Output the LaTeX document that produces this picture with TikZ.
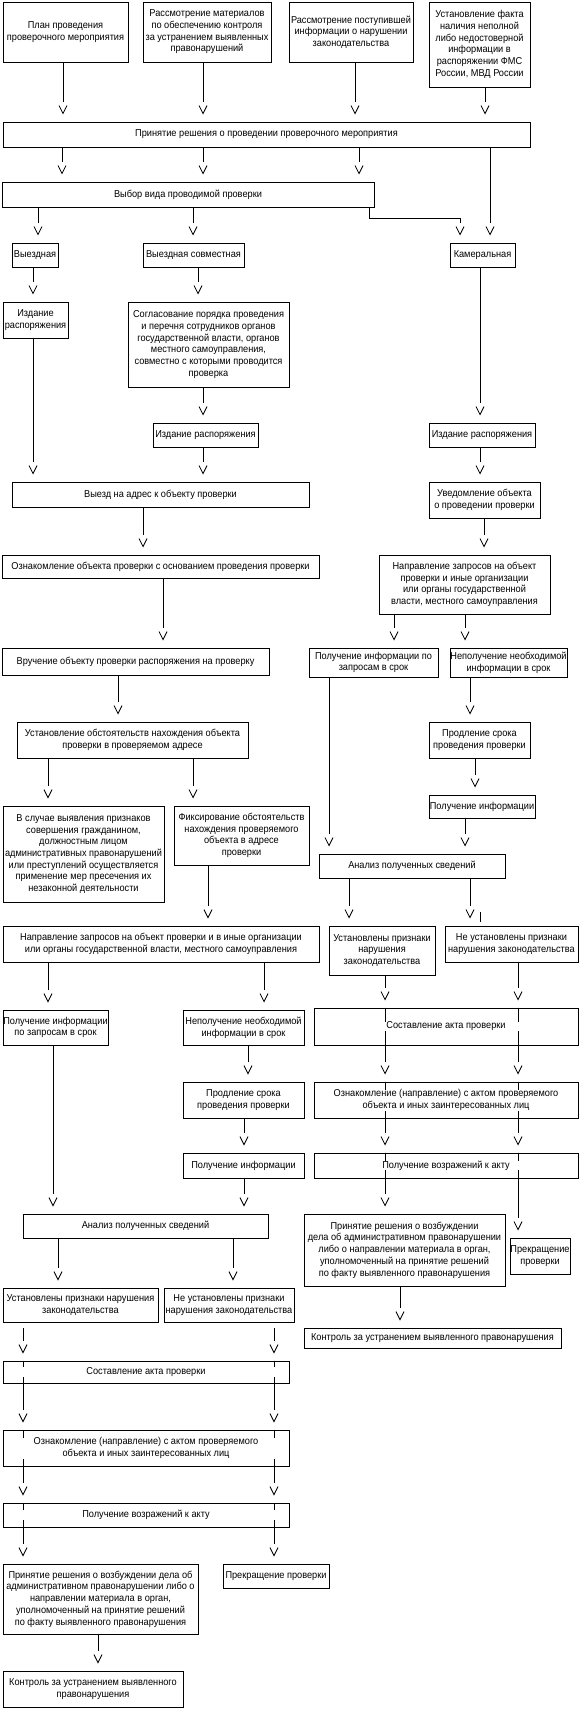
\documentclass[tikz,border=0pt]{standalone}
\usepackage{fontspec}
\setmainfont{Liberation Sans}[FakeStretch=0.92]
\usetikzlibrary{calc}
\pgfdeclarelayer{background}
\pgfsetlayers{background,main}
\pgfdeclarearrow{
  name = GapV,
  parameters = {},
  setup code = {
    \pgfarrowssettipend{0pt}
    \pgfarrowssetbackend{-20pt}
    \pgfarrowssetlineend{-20pt}
    \pgfarrowssetvisualbackend{-16pt}
    \pgfarrowsupperhullpoint{-16pt}{4pt}
    \pgfarrowsupperhullpoint{-8pt}{0pt}
  },
  drawing code = {
    \pgfpathmoveto{\pgfqpoint{-16pt}{4pt}}
    \pgfpathlineto{\pgfqpoint{-8pt}{0pt}}
    \pgfpathlineto{\pgfqpoint{-16pt}{-4pt}}
    \pgfusepathqstroke
  }
}
\tikzset{
  txt/.style={font=\fontsize{10}{11.7}\selectfont},
  box/.style={draw, line width=0.8pt, inner sep=0pt, align=center, txt},
  band/.style={fill=white, inner sep=0pt, align=center, txt},
  arr/.style={-GapV, line width=0.8pt},
  ln/.style={line width=0.8pt},
}
\newcommand\mybox[6]{%
  \pgfmathsetmacro\bw{#4-#2}%
  \pgfmathsetmacro\bh{#5-#3}%
  \pgfmathsetmacro\bcx{(#2+#4)/2}%
  \pgfmathsetmacro\bcy{(#3+#5)/2}%
  \node[box, minimum width=\bw pt, minimum height=\bh pt] (#1) at (\bcx,\bcy) {#6};}
\newcommand\passbox[6]{%
  \pgfmathsetmacro\bw{#4-#2}%
  \pgfmathsetmacro\bh{#5-#3}%
  \pgfmathsetmacro\bcx{(#2+#4)/2}%
  \pgfmathsetmacro\bcy{(#3+#5)/2}%
  \pgfmathsetmacro\bbw{#4-#2-4}%
  \node[box, minimum width=\bw pt, minimum height=\bh pt] (#1) at (\bcx,\bcy) {};
  \node[band, minimum width=\bbw pt] (#1t) at (\bcx,\bcy) {#6};}
\newcommand\varr[3]{\coordinate (vx) at (#3,0); \draw[arr] (#1.south -| vx) -- (#2.north -| vx);}
\newcommand\vthru[2]{\coordinate (vx) at (#2,0); \draw[ln] (#1.north -| vx) -- (#1.south -| vx);}
\begin{document}
\begin{tikzpicture}[x=1pt,y=-1pt]
\useasboundingbox (0,0) rectangle (580,1710);
\mybox{A1}{3}{2}{128}{62}{План проведения\\проверочного мероприятия}
\mybox{A2}{143}{2}{271}{62}{Рассмотрение материалов\\по обеспечению контроля\\за устранением выявленных\\правонарушений}
\mybox{A3}{289}{2}{413}{62}{Рассмотрение поступившей\\информации о нарушении\\законодательства}
\mybox{A4}{429}{2}{530}{87}{Установление факта\\наличия неполной\\либо недостоверной\\информации в\\распоряжении ФМС\\России, МВД России}
\mybox{B}{3}{122}{530}{147}{Принятие решения о проведении проверочного мероприятия}
\mybox{C}{2}{182}{374}{207}{Выбор вида проводимой проверки}
\mybox{D1}{12}{243}{58}{267}{Выездная}
\mybox{D2}{143}{243}{244}{267}{Выездная совместная}
\mybox{D3}{450}{243}{515}{267}{Камеральная}
\mybox{E1}{3}{302}{68}{338}{Издание\\распоряжения}
\mybox{E2}{128}{302}{289}{387}{Согласование порядка проведения\\и перечня сотрудников органов\\государственной власти, органов\\местного самоуправления,\\совместно с которыми проводится\\проверка}
\mybox{F2}{153}{423}{258}{447}{Издание распоряжения}
\mybox{F3}{429}{423}{535}{447}{Издание распоряжения}
\mybox{G}{12}{482}{309}{507}{Выезд на адрес к объекту проверки}
\mybox{H3}{429}{482}{540}{518}{Уведомление объекта\\о проведении проверки}
\mybox{I}{2}{555}{319}{578}{Ознакомление объекта проверки с основанием проведения проверки}
\mybox{J3}{379}{555}{550}{614}{Направление запросов на объект\\проверки и иные организации\\или органы государственной\\власти, местного самоуправления}
\mybox{K}{2}{648}{269}{675}{Вручение объекту проверки распоряжения на проверку}
\mybox{L1}{309}{648}{438}{677}{Получение информации по\\запросам в срок}
\mybox{L2}{450}{648}{567}{677}{Неполучение необходимой\\информации в срок}
\mybox{N}{17}{722}{248}{758}{Установление обстоятельств нахождения объекта\\проверки в проверяемом адресе}
\mybox{M}{429}{722}{530}{758}{Продление срока\\проведения проверки}
\mybox{M2}{429}{795}{535}{818}{Получение информации}
\mybox{O1}{3}{806}{164}{902}{В случае выявления признаков\\совершения гражданином,\\должностным лицом\\административных правонарушений\\или преступлений осуществляется\\применение мер пресечения их\\незаконной деятельности}
\mybox{O2}{174}{806}{309}{865}{Фиксирование обстоятельств\\нахождения проверяемого\\объекта в адресе\\проверки}
\mybox{P}{319}{854}{505}{878}{Анализ полученных сведений}
\mybox{Q}{3}{926}{319}{962}{Направление запросов на объект проверки и в иные организации\\или органы государственной власти, местного самоуправления}
\mybox{R1}{329}{926}{435}{975}{Установлены признаки\\нарушения\\законодательства}
\mybox{R2}{445}{926}{578}{962}{Не установлены признаки\\нарушения законодательства}
\mybox{S1}{3}{1010}{108}{1045}{Получение информации\\по запросам в срок}
\mybox{S2}{183}{1010}{304}{1045}{Неполучение необходимой\\информации в срок}
\passbox{T}{314}{1008}{578}{1045}{Составление акта проверки}
\mybox{S3}{183}{1082}{304}{1118}{Продление срока\\проведения проверки}
\passbox{U}{314}{1082}{578}{1118}{Ознакомление (направление) с актом проверяемого\\объекта и иных заинтересованных лиц}
\mybox{S4}{183}{1153}{304}{1178}{Получение информации}
\passbox{W}{314}{1153}{578}{1178}{Получение возражений к акту}
\mybox{X}{23}{1214}{268}{1238}{Анализ полученных сведений}
\mybox{Y}{304}{1214}{505}{1286}{Принятие решения о возбуждении\\дела об административном правонарушении\\либо о направлении материала в орган,\\уполномоченный на принятие решений\\по факту выявленного правонарушения}
\mybox{Z}{510}{1238}{570}{1274}{Прекращение\\проверки}
\mybox{YK}{304}{1328}{561}{1348}{Контроль за устранением выявленного правонарушения}
\mybox{AA1}{3}{1288}{158}{1322}{Установлены признаки нарушения\\законодательства}
\mybox{AA2}{164}{1288}{294}{1322}{Не установлены признаки\\нарушения законодательства}
\passbox{BB}{3}{1361}{289}{1383}{Составление акта проверки}
\passbox{CC}{3}{1430}{289}{1466}{Ознакомление (направление) с актом проверяемого\\объекта и иных заинтересованных лиц}
\passbox{DD}{3}{1503}{289}{1527}{Получение возражений к акту}
\mybox{EE}{3}{1564}{198}{1634}{Принятие решения о возбуждении дела об\\административном правонарушении либо о\\направлении материала в орган,\\уполномоченный на принятие решений\\по факту выявленного правонарушения}
\mybox{FF}{223}{1564}{329}{1588}{Прекращение проверки}
\mybox{GG}{3}{1671}{183}{1707}{Контроль за устранением выявленного\\правонарушения}
\begin{pgfonlayer}{background}
\varr{A1}{B}{63}
\varr{A2}{B}{203}
\varr{A3}{B}{355}
\varr{A4}{B}{485}
\varr{B}{C}{62}
\varr{B}{C}{203}
\varr{B}{C}{359}
\varr{B}{D3}{490}
\varr{C}{D1}{38}
\varr{C}{D2}{193}
\coordinate (cx) at (369,0);
\coordinate (elb) at (460,218);
\draw[arr] (C.south -| cx) |- (elb) -- (D3.north -| elb);
\varr{D1}{E1}{33}
\varr{D2}{E2}{198}
\varr{D3}{F3}{480}
\varr{E2}{F2}{203}
\varr{E1}{G}{33}
\varr{F2}{G}{203}
\varr{F3}{H3}{480}
\varr{G}{I}{143}
\varr{H3}{J3}{484}
\varr{I}{K}{163}
\varr{J3}{L1}{394}
\varr{J3}{L2}{465}
\varr{K}{N}{118}
\varr{L2}{M}{470}
\varr{M}{M2}{475}
\varr{N}{O1}{48}
\varr{N}{O2}{193}
\varr{L1}{P}{329}
\varr{M2}{P}{465}
\varr{O2}{Q}{208}
\varr{P}{R1}{349}
\varr{P}{R2}{470}
\coordinate (sb) at (480,912);
\draw[ln] (sb) -- ++(0,10);
\varr{Q}{S1}{48}
\varr{Q}{S2}{264}
\varr{R1}{T}{385}
\varr{R2}{T}{518}
\vthru{T}{385}
\vthru{T}{518}
\varr{S2}{S3}{248}
\varr{T}{U}{385}
\varr{T}{U}{518}
\vthru{U}{385}
\vthru{U}{518}
\varr{S1}{X}{53}
\varr{S3}{S4}{244}
\varr{U}{W}{385}
\varr{U}{W}{518}
\vthru{W}{385}
\vthru{W}{518}
\varr{S4}{X}{244}
\varr{W}{Y}{385}
\varr{W}{Z}{518}
\varr{X}{AA1}{58}
\varr{X}{AA2}{233}
\varr{Y}{YK}{400}
\coordinate (vx) at (23,0);
\draw[arr, shorten <=6pt] (AA1.south -| vx) -- (BB.north -| vx);
\coordinate (vx) at (274,0);
\draw[arr, shorten <=6pt] (AA2.south -| vx) -- (BB.north -| vx);
\vthru{BB}{23}
\vthru{BB}{274}
\varr{BB}{CC}{23}
\varr{BB}{CC}{274}
\vthru{CC}{23}
\vthru{CC}{274}
\varr{CC}{DD}{23}
\varr{CC}{DD}{274}
\vthru{DD}{23}
\vthru{DD}{274}
\varr{DD}{EE}{23}
\varr{DD}{FF}{274}
\varr{EE}{GG}{98}
\end{pgfonlayer}
\end{tikzpicture}
\end{document}
